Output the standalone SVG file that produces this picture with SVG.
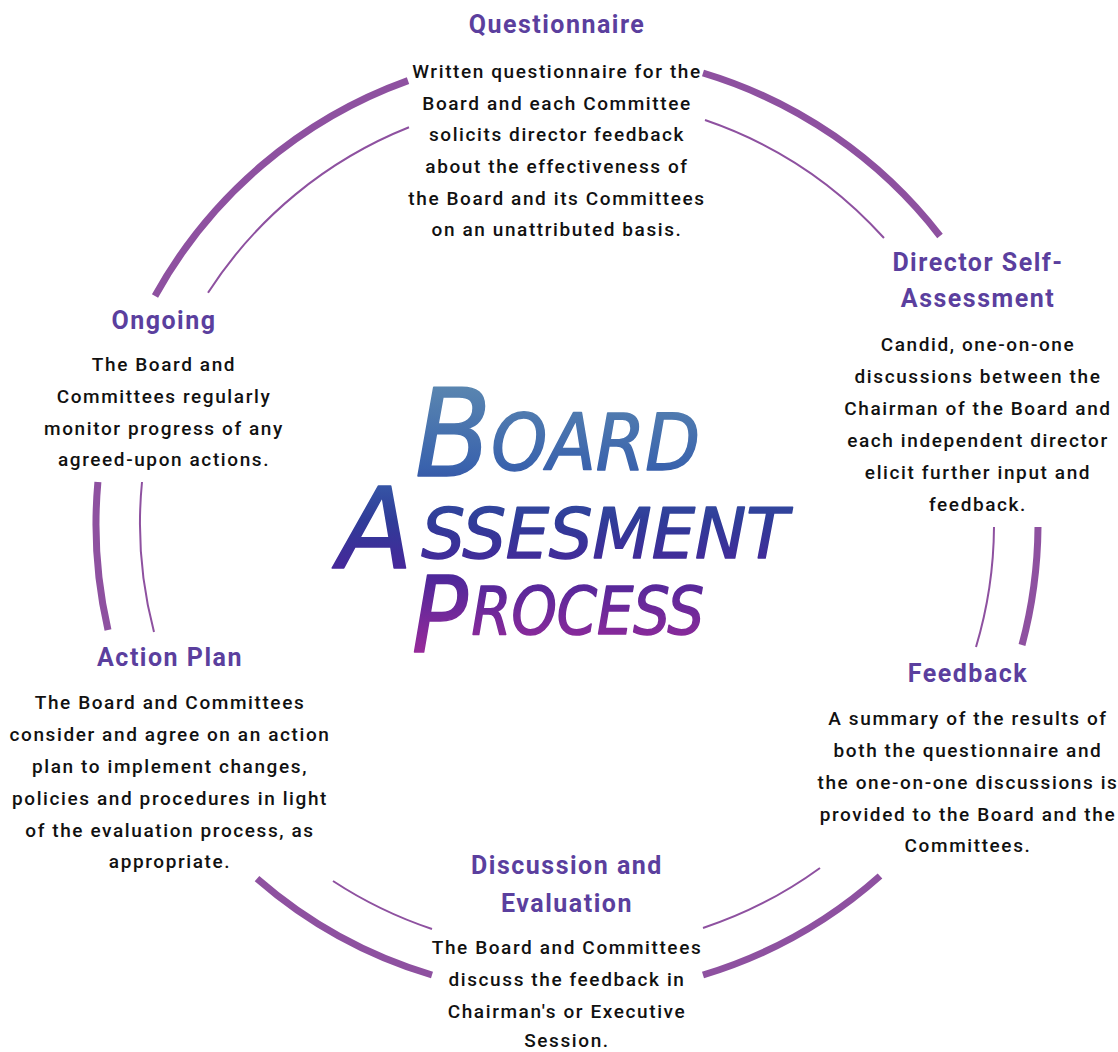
<svg xmlns="http://www.w3.org/2000/svg" width="1118" height="1052" viewBox="0 0 1118 1052">
<defs>
<linearGradient id="brush" gradientUnits="userSpaceOnUse" x1="0" y1="385" x2="0" y2="655">
<stop offset="0" stop-color="#5a86b0"/>
<stop offset="0.3" stop-color="#3a63ad"/>
<stop offset="0.5" stop-color="#2f3c98"/>
<stop offset="0.68" stop-color="#46279a"/>
<stop offset="1" stop-color="#9a2a9a"/>
</linearGradient>
</defs>
<style>
.outer{fill:none;stroke:#8e51a0;stroke-width:7}
.inner{fill:none;stroke:#8e51a0;stroke-width:2}
.title{font-family:Roboto,"Liberation Sans",sans-serif;font-weight:700;font-size:25px;fill:#5b3f9e;text-anchor:middle;letter-spacing:1.5px}
.body{font-family:Roboto,"Liberation Sans",sans-serif;font-weight:500;font-size:19px;fill:#111;text-anchor:middle;letter-spacing:1.6px}
.brush{font-family:"DejaVu Sans Condensed","DejaVu Sans",sans-serif;font-style:italic;fill:url(#brush);stroke:url(#brush);stroke-width:1.5;stroke-linejoin:round}
</style>
<rect width="1118" height="1052" fill="#ffffff"/>
<g id="connectors">
<path class="outer" d="M155,296 A471,471 0 0 1 408,80.6"/>
<path class="outer" d="M703,73 A471,471 0 0 1 940,236"/>
<path class="outer" d="M1038,527 A471,471 0 0 1 1022,645"/>
<path class="outer" d="M880,876 A471,471 0 0 1 703,975"/>
<path class="outer" d="M432,975 A471,471 0 0 1 257,878.6"/>
<path class="outer" d="M108,630 A471,471 0 0 1 97.9,482"/>
<path class="inner" d="M208,292.8 A427,427 0 0 1 409,127.3"/>
<path class="inner" d="M705,120 A427,427 0 0 1 884,238"/>
<path class="inner" d="M994,527 A427,427 0 0 1 976,647"/>
<path class="inner" d="M820,868 A427,427 0 0 1 703,928"/>
<path class="inner" d="M432,929 A427,427 0 0 1 333,881"/>
<path class="inner" d="M154,632 A427,427 0 0 1 142,482"/>
</g>
<g id="center-title">
<text class="brush" x="415" y="476" textLength="285" lengthAdjust="spacingAndGlyphs"><tspan font-size="122">B</tspan><tspan font-size="78" dy="-6">OARD</tspan></text>
<text class="brush" x="338" y="568" textLength="450" lengthAdjust="spacingAndGlyphs"><tspan font-size="112">A</tspan><tspan font-size="70" dy="-10" dx="8">SSESMENT</tspan></text>
<text class="brush" x="412" y="652" textLength="292" lengthAdjust="spacingAndGlyphs"><tspan font-size="106">P</tspan><tspan font-size="66" dy="-18" dx="4">ROCESS</tspan></text>
</g>
<g id="node-questionnaire">
<text class="title" x="557" y="33">Questionnaire</text>
<text class="body" x="557" y="78">Written questionnaire for the</text>
<text class="body" x="557" y="110">Board and each Committee</text>
<text class="body" x="557" y="141">solicits director feedback</text>
<text class="body" x="557" y="173">about the effectiveness of</text>
<text class="body" x="557" y="205">the Board and its Committees</text>
<text class="body" x="557" y="236">on an unattributed basis.</text>
</g>
<g id="node-director-self-assessment">
<text class="title" x="978" y="271">Director Self-</text>
<text class="title" x="978" y="307">Assessment</text>
<text class="body" x="978" y="351">Candid, one-on-one</text>
<text class="body" x="978" y="383">discussions between the</text>
<text class="body" x="978" y="415">Chairman of the Board and</text>
<text class="body" x="978" y="447">each independent director</text>
<text class="body" x="978" y="479">elicit further input and</text>
<text class="body" x="978" y="511">feedback.</text>
</g>
<g id="node-feedback">
<text class="title" x="968" y="682">Feedback</text>
<text class="body" x="968" y="725">A summary of the results of</text>
<text class="body" x="968" y="757">both the questionnaire and</text>
<text class="body" x="968" y="789">the one-on-one discussions is</text>
<text class="body" x="968" y="821">provided to the Board and the</text>
<text class="body" x="968" y="852">Committees.</text>
</g>
<g id="node-discussion-evaluation">
<text class="title" x="567" y="874">Discussion and</text>
<text class="title" x="567" y="912">Evaluation</text>
<text class="body" x="567" y="954">The Board and Committees</text>
<text class="body" x="567" y="986">discuss the feedback in</text>
<text class="body" x="567" y="1018">Chairman's or Executive</text>
<text class="body" x="567" y="1047">Session.</text>
</g>
<g id="node-action-plan">
<text class="title" x="170" y="666">Action Plan</text>
<text class="body" x="170" y="709">The Board and Committees</text>
<text class="body" x="170" y="741">consider and agree on an action</text>
<text class="body" x="170" y="773">plan to implement changes,</text>
<text class="body" x="170" y="805">policies and procedures in light</text>
<text class="body" x="170" y="837">of the evaluation process, as</text>
<text class="body" x="170" y="868">appropriate.</text>
</g>
<g id="node-ongoing">
<text class="title" x="164" y="329">Ongoing</text>
<text class="body" x="164" y="371">The Board and</text>
<text class="body" x="164" y="403">Committees regularly</text>
<text class="body" x="164" y="435">monitor progress of any</text>
<text class="body" x="164" y="466">agreed-upon actions.</text>
</g>
</svg>
